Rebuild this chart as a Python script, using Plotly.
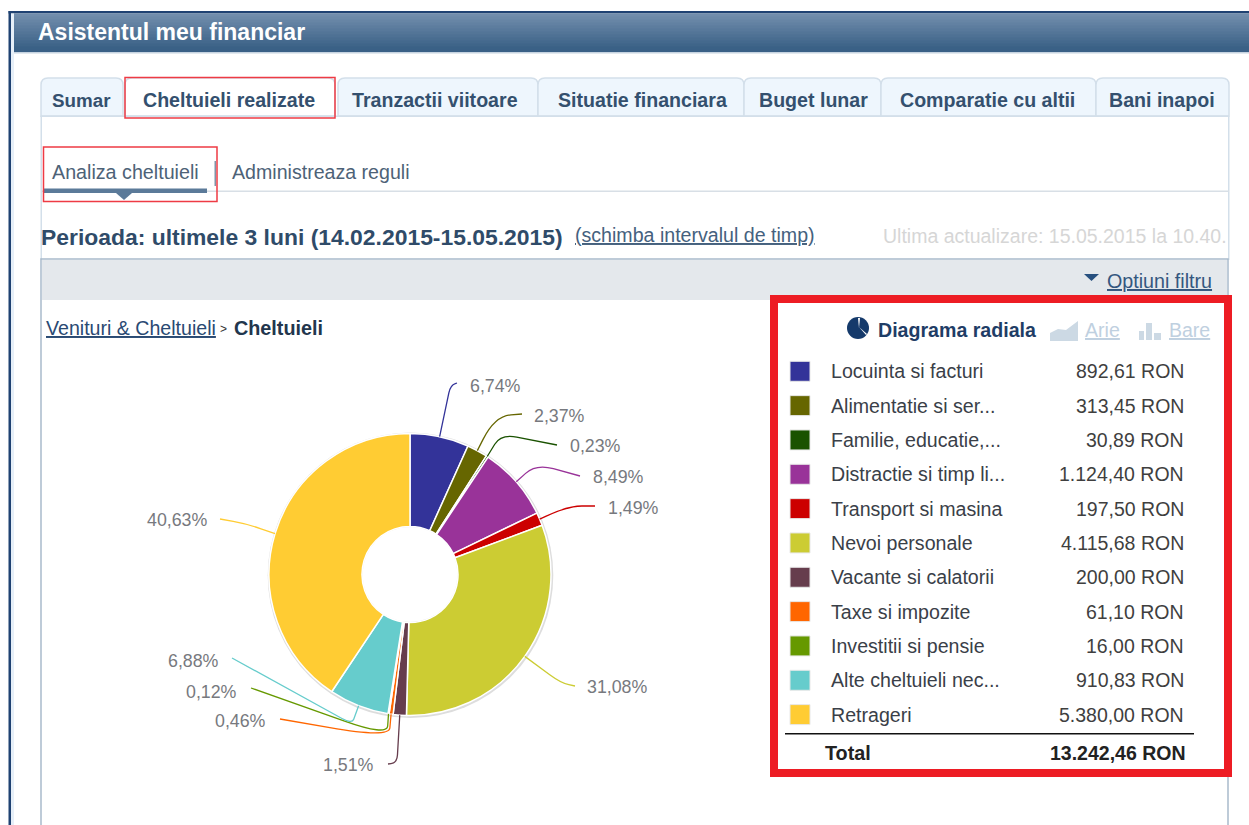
import math
import plotly.graph_objects as go

W, H = 1249, 825

# ---------- data ----------
categories = ["Locuinta si facturi", "Alimentatie si ser...", "Familie, educatie,...",
              "Distractie si timp li...", "Transport si masina", "Nevoi personale",
              "Vacante si calatorii", "Taxe si impozite", "Investitii si pensie",
              "Alte cheltuieli nec...", "Retrageri"]
amounts = [892.61, 313.45, 30.89, 1124.40, 197.50, 4115.68, 200.00, 61.10, 16.00, 910.83, 5380.00]
amount_labels = ["892,61 RON", "313,45 RON", "30,89 RON", "1.124,40 RON", "197,50 RON", "4.115,68 RON",
                 "200,00 RON", "61,10 RON", "16,00 RON", "910,83 RON", "5.380,00 RON"]
percent_labels = ["6,74%", "2,37%", "0,23%", "8,49%", "1,49%", "31,08%",
                  "1,51%", "0,46%", "0,12%", "6,88%", "40,63%"]
slice_colors = ["#333399", "#666600", "#1a5200", "#993399", "#cc0000", "#cccc33",
                "#663d4d", "#ff6600", "#669900", "#66cccc", "#ffcc33"]
total_label = "13.242,46 RON"

tabs = ["Sumar", "Cheltuieli realizate", "Tranzactii viitoare", "Situatie financiara",
        "Buget lunar", "Comparatie cu altii", "Bani inapoi"]

# ---------- layout (pixels) ----------
tab_edges = [(41, 123), (125, 335), (338, 538), (538, 744), (744, 881), (881, 1096), (1096, 1229)]
tab_text_x = [52, 143, 352, 558, 759, 900, 1109]

cx, cy, R, r_hole = 410, 574.5, 141, 48
# label x, y, anchor, leader bend, leader end, rounding before and after the bend
label_layout = [
    (470, 386, "left", (450.5, 385), (457, 383), 8, 5),
    (534, 416, "left", (495, 416), (522, 414), 26, 16),
    (570, 446, "left", (501, 434), (557, 445), 12, 16),
    (593, 477, "left", (536, 464), (580, 476), 14, 18),
    (608, 508, "left", (568, 506), (595, 506), 24, 14),
    (587, 687, "left", (561, 683), (575, 686), 14, 8),
    (374, 765, "right", (397, 763), (388, 764), 8, 6),
    (266, 721, "right", (389, 738), (280, 719), 10, 60),
    (237, 692, "right", (387, 736), (251, 688), 10, 45),
    (219, 661, "right", (352, 724), (232, 658), 5, 12),
    (207, 520, "right", (247, 524), (220, 519), 14, 14),
]


def X(v):
    return v / W


def Y(v):
    return 1 - v / H


shapes = []
ann = []


def rect(x0, y0, x1, y1, fill=None, line=None, lw=0):
    shapes.append(dict(type="rect", xref="paper", yref="paper", x0=X(x0), x1=X(x1), y0=Y(y0), y1=Y(y1),
                       fillcolor=fill or "rgba(0,0,0,0)", layer="below",
                       line=dict(color=line or "rgba(0,0,0,0)", width=lw)))


def poly(points, fill, close=True):
    d = "M " + " L ".join(f"{X(a):.5f},{Y(b):.5f}" for a, b in points) + (" Z" if close else "")
    shapes.append(dict(type="path", xref="paper", yref="paper", path=d, fillcolor=fill, layer="below",
                       line=dict(width=0)))


def circle(x, y, r, fill, line=None, lw=0):
    shapes.append(dict(type="circle", xref="paper", yref="paper", x0=X(x - r), x1=X(x + r), y0=Y(y + r),
                       y1=Y(y - r), fillcolor=fill, layer="below",
                       line=dict(color=line or "rgba(0,0,0,0)", width=lw)))


def text(x, y, s, size, color, anchor="left", bold=False):
    ann.append(dict(xref="paper", yref="paper", x=X(x), y=Y(y), xanchor=anchor, yanchor="middle",
                    text=f"<b>{s}</b>" if bold else s, showarrow=False, borderpad=0, borderwidth=0,
                    font=dict(family="Liberation Sans", size=size, color=color)))


def toward(p, q, dist):
    dx, dy = q[0] - p[0], q[1] - p[1]
    n = math.hypot(dx, dy) or 1
    t = min(dist / n, 0.95)
    return (p[0] + dx * t, p[1] + dy * t)


# page frame and title band
rect(8.5, 11, 11, H, fill="#1f4272")
rect(8.5, 11, W, 13.5, fill="#1f4272")
rect(11, 13.5, 14, H, fill="#e6eff8")
BAND = ["#718dac", "#6c89a8", "#6785a5", "#6281a2", "#5d7d9e", "#58799b", "#537597", "#4e7194",
        "#496d90", "#44698d", "#3f6589", "#3a6186", "#3a6086"]
for i, c in enumerate(BAND):
    rect(14, 13.5 + i * 3, W, 13.5 + (i + 1) * 3 + 0.4, fill=c)
rect(14, 52, W, 53.5, fill="#c6d3e0")
text(38, 32, "Asistentul meu financiar", 23, "#ffffff", bold=True)

# tabs
for i, (a, b) in enumerate(tab_edges):
    top, bot, rad = 78, 116, 7
    d = (f"M {X(a):.5f},{Y(bot):.5f} L {X(a):.5f},{Y(top + rad):.5f} Q {X(a):.5f},{Y(top):.5f} "
         f"{X(a + rad):.5f},{Y(top):.5f} L {X(b - rad):.5f},{Y(top):.5f} Q {X(b):.5f},{Y(top):.5f} "
         f"{X(b):.5f},{Y(top + rad):.5f} L {X(b):.5f},{Y(bot):.5f} Z")
    active = i == 1
    shapes.append(dict(type="path", xref="paper", yref="paper", path=d, layer="below",
                       fillcolor="#ffffff" if active else "#eef6fd",
                       line=dict(color="#d3dfea", width=1.5)))
    text(tab_text_x[i], 100, tabs[i], 19.6 if i != 0 else 18.8, "#34506e", bold=True)
rect(40.5, 115.5, 1229, 117, fill="#d3dfea")
rect(40.5, 116, 42, 260, fill="#d3dfea")
rect(1228, 116, 1229.5, 260, fill="#d3dfea")

# sub tabs
rect(41, 190.5, 1229, 192, fill="#d8dfe6")
text(52, 172, "Analiza cheltuieli", 19.7, "#4d6277")
text(232, 172, "Administreaza reguli", 19.6, "#4d6277")
rect(44, 188.5, 207, 193, fill="#5b7a99")
poly([(116, 193), (132, 193), (124, 200)], "#5b7a99")
rect(214.5, 161, 216, 186, fill="#8094a8")

# period row
text(41, 237, "Perioada: ultimele 3 luni (14.02.2015-15.05.2015)", 22.9, "#2f4b69", bold=True)
text(575, 235, "<u>(schimba intervalul de timp)</u>", 19.6, "#45617e")
text(883, 236, "Ultima actualizare: 15.05.2015 la 10.40.", 19.5, "#d6d6d6")

# main panel
rect(41, 259, 1228, H + 3, fill="#ffffff", line="#a9bacb", lw=1.5)
rect(42, 260, 1227, 300, fill="#e4e8ec")
poly([(1084, 274), (1099, 274), (1091.5, 281)], "#27507f")
text(1107, 281, "<u>Optiuni filtru</u>", 19.7, "#34577f")

# breadcrumb
text(46, 328, "<u>Venituri &amp; Cheltuieli</u>", 19.6, "#2a4a73")
text(220, 329, "&gt;", 12, "#333333")
text(234, 328, "Cheltuieli", 19.8, "#22364d", bold=True)

# highlighted legend box
rect(774, 299, 1228, 773, fill="#ffffff", line="#ed1c24", lw=8)

# chart-type switcher
circle(858, 328, 11, "#153a6b")
poly([(858, 318), (860, 318), (859, 328)], "#ffffff")
poly([(859, 327), (867, 334), (866, 335)], "#ffffff")
text(878, 330, "Diagrama radiala", 19.6, "#1f3d66", bold=True)
poly([(1050, 341), (1050, 333), (1058, 329), (1066, 330), (1078, 321), (1078, 341)], "#ccd9e4")
text(1085, 330, "<u>Arie</u>", 19.6, "#bfd0e0")
rect(1139, 331, 1144, 340, fill="#ccd9e4")
rect(1146, 323, 1152, 340, fill="#ccd9e4")
rect(1154, 333, 1161, 340, fill="#ccd9e4")
text(1169, 330, "<u>Bare</u>", 19.5, "#bfd0e0")

# red tab outlines
rect(125, 77.5, 335, 118, line="#ee3b44", lw=1.5)
rect(43.5, 147, 217, 201.5, line="#ee3b44", lw=1.5)

# legend rows
row_y0, row_step = 371.3, 34.33
for i, name in enumerate(categories):
    y = row_y0 + i * row_step
    rect(790, y - 10, 810, y + 10, fill=slice_colors[i], line="#e8e8e8", lw=1)
    text(830.5, y, name, 19.6, "#3a4048")
    text(1184, y, amount_labels[i], 19.5, "#3f3f3f", anchor="right")
rect(785, 733, 1194, 734.5, fill="#111111")
text(825, 753, "Total", 19.8, "#222222", bold=True)
text(1186, 753, total_label, 19.5, "#222222", anchor="right", bold=True)

# donut shadow
circle(cx + 0.5, cy + 0.8, R + 1.8, "#dddddd")
circle(cx, cy, r_hole, "#ffffff", line="#e3e3e3", lw=1)

# leader lines and percentage labels, anchored at each slice's mid-angle
total = sum(amounts)
cum = 0.0
for i, v in enumerate(amounts):
    mid = (cum + v / 2) / total * 2 * math.pi
    cum += v
    s = (cx + R * math.sin(mid), cy - R * math.cos(mid))
    lx, ly, anc, bend, end, r1, r2 = label_layout[i]
    p1, p2 = toward(bend, s, r1), toward(bend, end, r2)
    d = (f"M {X(s[0]):.5f},{Y(s[1]):.5f} L {X(p1[0]):.5f},{Y(p1[1]):.5f} "
         f"Q {X(bend[0]):.5f},{Y(bend[1]):.5f} {X(p2[0]):.5f},{Y(p2[1]):.5f} "
         f"L {X(end[0]):.5f},{Y(end[1]):.5f}")
    shapes.append(dict(type="path", xref="paper", yref="paper", path=d, layer="above",
                       line=dict(color=slice_colors[i], width=1.3)))
    text(lx, ly, percent_labels[i], 17.8, "#77797e", anchor=anc)

fig = go.Figure(go.Pie(
    values=amounts,
    labels=categories,
    sort=False,
    direction="clockwise",
    rotation=0,
    hole=r_hole / R,
    textinfo="none",
    hoverinfo="label+percent",
    marker=dict(colors=slice_colors, line=dict(color="#ffffff", width=1.5)),
    domain=dict(x=[X(cx - R), X(cx + R)], y=[Y(cy + R), Y(cy - R)]),
))
fig.update_layout(width=W, height=H, margin=dict(l=0, r=0, t=0, b=0), showlegend=False,
                  paper_bgcolor="#ffffff", plot_bgcolor="#ffffff", shapes=shapes, annotations=ann,
                  font=dict(family="Liberation Sans"))
fig.write_html("out.html", config={"displayModeBar": False},
               post_script="document.body.style.margin='0';document.body.style.overflow='hidden';")
